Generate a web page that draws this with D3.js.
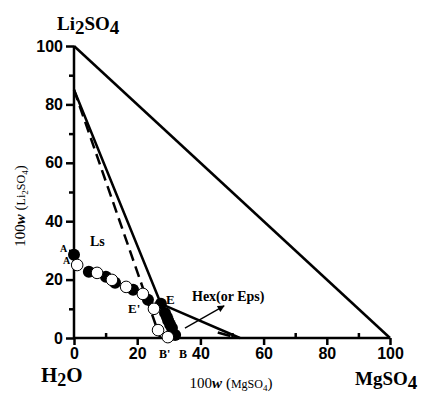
<!DOCTYPE html>
<html>
<head>
<meta charset="utf-8">
<script src="https://cdn.jsdelivr.net/npm/d3@7"></script>
<style>
  body { margin:0; background:#fff; }
  .tick text { font-family:"Liberation Sans", Arial, sans-serif; font-weight:bold; font-size:16px; fill:#000; }
  .lbl { font-family:"Liberation Serif", "Times New Roman", serif; font-weight:bold; fill:#000; }
</style>
</head>
<body>
<div id="container"></div>
<script>
let w=423;
let h=395;

// tick values
let majorTicks = [0,20,40,60,80,100];
let minorTicks = [10,30,50,70,90];

// solid symbols (black) : [MgSO4, Li2SO4]
let solidPts = [[0,28.5],[4.7,22.7],[10.1,21],[13,18.9],[18.7,16.5],[23.4,13.1],[27.5,11.7],
  [28.8,8.6],[29.4,7.2],[29.8,6],[30.4,4.6],[31,3.4],[32,1]];
// open symbols
let openPts = [[1,25],[7.3,22.3],[12,19.9],[16.5,17.5],[21.8,15.1],[25.3,10],[26.6,2.7],[29.7,0.3]];

// lines
let triangle = [[0,100],[100,0]];
let solidLine = [[0,85],[27.5,11.7],[52.5,0]];
let dashLine = [[0,85],[27.3,0]];
let dashTail = [[45.5,1.9],[49.5,0.7]];
let arrowLine = [[35.1,3.4],[47.5,11]];

let viz = d3.select("#container")
  .append("svg")
    .attr("width",w)
    .attr("height",h)
    .style("background-color","#fff")
;

let x = d3.scaleLinear().domain([0,100]).range([74,390]);
let y = d3.scaleLinear().domain([0,100]).range([338,46]);

let line = d3.line().x(d=>x(d[0])).y(d=>y(d[1]));

viz.append("defs").append("marker")
  .attr("id","arr")
  .attr("viewBox","0 0 10 10")
  .attr("refX",9).attr("refY",5)
  .attr("markerWidth",9).attr("markerHeight",7)
  .attr("markerUnits","userSpaceOnUse")
  .attr("orient","auto")
  .append("path").attr("d","M0,0 L10,5 L0,10 Z").attr("fill","#000");

// axes
let yMajor = viz.append("g").attr("transform","translate(74,0)")
  .call(d3.axisLeft(y).tickValues(majorTicks).tickSize(8).tickPadding(3));
let yMinor = viz.append("g").attr("transform","translate(74,0)")
  .call(d3.axisLeft(y).tickValues(minorTicks).tickSize(5).tickFormat(""));
let xMajor = viz.append("g").attr("transform","translate(0,338)")
  .call(d3.axisBottom(x).tickValues(majorTicks).tickSize(7).tickPadding(3));
let xMinor = viz.append("g").attr("transform","translate(0,338)")
  .call(d3.axisTop(x).tickValues(minorTicks).tickSize(5).tickFormat(""));

viz.selectAll(".domain").attr("stroke","#000").attr("stroke-width",2.5);
viz.selectAll(".tick line").attr("stroke","#000").attr("stroke-width",2.5);
// keep only the plain axis lines
yMajor.select(".domain").attr("d","M0,"+y(0)+"V"+y(100));
yMinor.select(".domain").remove();
xMajor.select(".domain").attr("d","M"+x(0)+",0H"+x(100));
xMinor.select(".domain").remove();

// lines
viz.append("path").attr("d",line(triangle)).attr("fill","none").attr("stroke","#000").attr("stroke-width",2.5);
viz.append("path").attr("d",line(dashLine)).attr("fill","none").attr("stroke","#000").attr("stroke-width",2.5).attr("stroke-dasharray","11,6");
viz.append("path").attr("d",line(dashTail)).attr("fill","none").attr("stroke","#000").attr("stroke-width",2.5);
viz.append("path").attr("d",line(solidLine)).attr("fill","none").attr("stroke","#000").attr("stroke-width",2.5);
viz.append("path").attr("d",line(arrowLine)).attr("fill","none").attr("stroke","#000").attr("stroke-width",1.3).attr("marker-end","url(#arr)");

// points
viz.selectAll(".solid").data(solidPts).enter().append("circle")
  .attr("class","solid")
  .attr("cx",d=>x(d[0])).attr("cy",d=>y(d[1])).attr("r",6)
  .attr("fill","#000");
viz.selectAll(".open").data(openPts).enter().append("circle")
  .attr("class","open")
  .attr("cx",d=>x(d[0])).attr("cy",d=>y(d[1])).attr("r",5.8)
  .attr("fill","#fff").attr("stroke","#000").attr("stroke-width",1);

// corner labels
let li = viz.append("text").attr("class","lbl").attr("x",57).attr("y",30).attr("font-size",19);
li.append("tspan").text("Li");
li.append("tspan").attr("dy",4).text("2");
li.append("tspan").attr("dy",-4).text("SO");
li.append("tspan").attr("dy",4).text("4");

let h2o = viz.append("text").attr("class","lbl").attr("x",41).attr("y",382).attr("font-size",21);
h2o.append("tspan").text("H");
h2o.append("tspan").attr("dy",4).attr("font-size",18).text("2");
h2o.append("tspan").attr("dy",-4).text("O");

let mg = viz.append("text").attr("class","lbl").attr("x",355).attr("y",385).attr("font-size",19);
mg.append("tspan").text("MgSO");
mg.append("tspan").attr("dy",4).text("4");

// axis titles
let xt = viz.append("text").attr("x",231).attr("y",388).attr("text-anchor","middle")
  .attr("font-family","Liberation Serif, serif").attr("font-size",15);
xt.append("tspan").text("100");
xt.append("tspan").attr("font-style","italic").attr("font-weight","bold").text("w");
xt.append("tspan").text(" (");
xt.append("tspan").attr("font-size",12).text("MgSO");
xt.append("tspan").attr("font-size",9).attr("dy",3).text("4");
xt.append("tspan").attr("dy",-3).text(")");

let yt = viz.append("text").attr("transform","translate(25,206) rotate(-90)").attr("text-anchor","middle")
  .attr("font-family","Liberation Serif, serif").attr("font-size",15);
yt.append("tspan").text("100");
yt.append("tspan").attr("font-style","italic").attr("font-weight","bold").text("w");
yt.append("tspan").text(" (");
yt.append("tspan").attr("font-size",12).text("Li");
yt.append("tspan").attr("font-size",9).attr("dy",3).text("2");
yt.append("tspan").attr("font-size",12).attr("dy",-3).text("SO");
yt.append("tspan").attr("font-size",9).attr("dy",3).text("4");
yt.append("tspan").attr("dy",-3).text(")");

// point labels
let labels = [
  {t:"Ls", x:90, y:246, s:14},
  {t:"A", x:60, y:252, s:10},
  {t:"A'", x:63, y:264, s:10},
  {t:"E'", x:128, y:313, s:13},
  {t:"E", x:166, y:304, s:13},
  {t:"Hex(or Eps)", x:192, y:301, s:14},
  {t:"B'", x:159, y:358, s:12},
  {t:"B", x:179, y:358, s:12}
];
viz.selectAll(".pl").data(labels).enter().append("text")
  .attr("class","lbl")
  .attr("x",d=>d.x).attr("y",d=>d.y).attr("font-size",d=>d.s)
  .text(d=>d.t);
</script>
</body>
</html>
